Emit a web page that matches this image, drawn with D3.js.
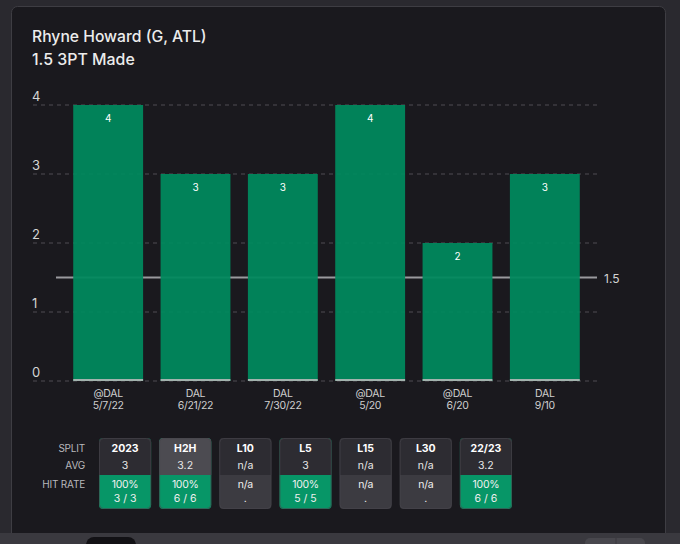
<!DOCTYPE html>
<html>
<head>
<meta charset="utf-8">
<script src="https://cdn.jsdelivr.net/npm/d3@7"></script>
<style>
  html, body { margin: 0; padding: 0; background: #2a292f; }
  svg { display: block; font-family: Inter, "Noto Sans", sans-serif; }
</style>
</head>
<body>
<div id="chart"></div>
<script>
const opponents = ["@DAL", "DAL", "DAL", "@DAL", "@DAL", "DAL"];
const dates = ["5/7/22", "6/21/22", "7/30/22", "5/20", "6/20", "9/10"];
const made = [4, 3, 3, 4, 2, 3];
const propLine = 1.5;
const yTicks = [0, 1, 2, 3, 4];

const splits = ["2023", "H2H", "L10", "L5", "L15", "L30", "22/23"];
const avgs = ["3", "3.2", "n/a", "3", "n/a", "n/a", "3.2"];
const hitPct = ["100%", "100%", "n/a", "100%", "n/a", "n/a", "100%"];
const hitCount = ["3 / 3", "6 / 6", ".", "5 / 5", ".", ".", "6 / 6"];
const selectedSplit = "H2H";

const width = 680;
const height = 544;

const games = made.map((v, i) => ({id: i, opp: opponents[i], date: dates[i], value: v}));

const svg = d3.select("#chart")
    .append("svg")
    .attr("width", width)
    .attr("height", height);

// page background + panel
svg.append("rect").attr("width", width).attr("height", height).attr("fill", "#2a292f");
svg.append("rect")
    .attr("x", 11.5).attr("y", 6.5)
    .attr("width", 654).attr("height", 540)
    .attr("rx", 6)
    .attr("fill", "#1a191e")
    .attr("stroke", "#3e3d43");

// bottom toolbar strip
svg.append("rect").attr("x", 0).attr("y", 533).attr("width", width).attr("height", 11).attr("fill", "#3a393f");
svg.append("rect").attr("x", 86).attr("y", 537).attr("width", 50).attr("height", 20).attr("rx", 8).attr("fill", "#121115");
svg.append("rect").attr("x", 585).attr("y", 538).attr("width", 60).attr("height", 20).attr("rx", 5).attr("fill", "#48474d");
svg.append("line").attr("x1", 616).attr("x2", 616).attr("y1", 538).attr("y2", 544).attr("stroke", "#3a393f");

// titles
svg.append("text")
    .attr("x", 32).attr("y", 42)
    .attr("fill", "#ececec")
    .attr("font-size", 15.7).attr("font-weight", 500)
    .text("Rhyne Howard (G, ATL)");
svg.append("text")
    .attr("x", 32).attr("y", 65)
    .attr("fill", "#ececec")
    .attr("font-size", 15.9).attr("font-weight", 500)
    .text(`${propLine} 3PT Made`);

// scales
const xScale = d3.scaleBand()
    .domain(games.map(d => d.id))
    .range([64.5, 588.5])
    .paddingInner(0.2)
    .paddingOuter(0.1);

const yScale = d3.scaleLinear()
    .domain([0, 4])
    .range([381, 105]);

const plot = svg.append("g");

// grid
plot.selectAll(".grid")
    .data(yTicks)
    .enter()
    .append("line")
    .attr("x1", 33).attr("x2", 598)
    .attr("y1", d => yScale(d)).attr("y2", d => yScale(d))
    .attr("stroke", "#4e4d53")
    .attr("stroke-dasharray", "4,4");

plot.selectAll(".ytick")
    .data(yTicks)
    .enter()
    .append("text")
    .attr("x", 32)
    .attr("y", d => yScale(d) - 4)
    .attr("fill", "#d4d4d4")
    .attr("font-size", 13)
    .text(d => d);

// prop line (behind bars)
plot.append("line")
    .attr("x1", 56).attr("x2", 597)
    .attr("y1", yScale(propLine)).attr("y2", yScale(propLine))
    .attr("stroke", "#9a9a9e")
    .attr("stroke-width", 2);
plot.append("text")
    .attr("x", 604).attr("y", yScale(propLine) + 5)
    .attr("fill", "#d4d4d4")
    .attr("font-size", 12)
    .text(propLine);

// bars
plot.selectAll(".bar")
    .data(games)
    .enter()
    .append("rect")
    .attr("x", d => xScale(d.id))
    .attr("y", d => yScale(d.value))
    .attr("width", xScale.bandwidth())
    .attr("height", d => yScale(0) - yScale(d.value))
    .attr("fill", "#00895e")
    .attr("fill-opacity", 0.94);

plot.selectAll(".base")
    .data(games)
    .enter()
    .append("rect")
    .attr("x", d => xScale(d.id))
    .attr("y", yScale(0) - 2)
    .attr("width", xScale.bandwidth())
    .attr("height", 2)
    .attr("fill", "#a3b3ae");

plot.selectAll(".val")
    .data(games)
    .enter()
    .append("text")
    .attr("x", d => xScale(d.id) + xScale.bandwidth() / 2)
    .attr("y", d => yScale(d.value) + 17)
    .attr("text-anchor", "middle")
    .attr("fill", "#ffffff")
    .attr("font-size", 10)
    .text(d => d.value);

const xl = plot.selectAll(".xl")
    .data(games)
    .enter()
    .append("text")
    .attr("text-anchor", "middle")
    .attr("fill", "#cfcfcf")
    .attr("font-size", 10.5)
    .attr("letter-spacing", -0.3);
xl.append("tspan")
    .attr("x", d => xScale(d.id) + xScale.bandwidth() / 2)
    .attr("y", 397)
    .text(d => d.opp);
xl.append("tspan")
    .attr("x", d => xScale(d.id) + xScale.bandwidth() / 2)
    .attr("y", 409)
    .text(d => d.date);

// split table
const rowLabels = [["SPLIT", 452], ["AVG", 469], ["HIT RATE", 488]];
svg.selectAll(".rowlabel")
    .data(rowLabels)
    .enter()
    .append("text")
    .attr("x", 85)
    .attr("y", d => d[1])
    .attr("text-anchor", "end")
    .attr("fill", "#b8b8bc")
    .attr("font-size", 10)
    .attr("letter-spacing", -0.2)
    .text(d => d[0]);

const cardScale = d3.scaleBand()
    .domain(splits)
    .range([99, 512])
    .paddingInner(0.133);

const cards = splits.map((s, i) => ({
    split: s, avg: avgs[i], pct: hitPct[i], count: hitCount[i], hit: hitPct[i] !== "n/a"
}));

const card = svg.selectAll(".card")
    .data(cards)
    .enter()
    .append("g")
    .attr("transform", d => `translate(${cardScale(d.split)}, 438)`);

const cw = cardScale.bandwidth();

card.append("rect")
    .attr("width", cw).attr("height", 71).attr("rx", 4)
    .attr("fill", d => d.hit ? "#079667" : "#3c3b41");
card.append("path")
    .attr("d", `M0,37 V4 A4,4 0 0 1 4,0 H${cw - 4} A4,4 0 0 1 ${cw},4 V37 Z`)
    .attr("fill", d => d.split === selectedSplit ? "#4c4b51" : "#2d2c32");
card.append("rect")
    .attr("x", 0.5).attr("y", 0.5)
    .attr("width", cw - 1).attr("height", 70).attr("rx", 4)
    .attr("fill", "none")
    .attr("stroke", "#47464c")
    .attr("stroke-opacity", 0.6);

card.append("text")
    .attr("x", cw / 2).attr("y", 14)
    .attr("text-anchor", "middle")
    .attr("fill", "#ffffff")
    .attr("font-size", 10.5).attr("font-weight", 700)
    .text(d => d.split);
card.append("text")
    .attr("x", cw / 2).attr("y", 31)
    .attr("text-anchor", "middle")
    .attr("fill", "#e8e8e8")
    .attr("font-size", 10.5)
    .text(d => d.avg);
card.append("text")
    .attr("x", cw / 2).attr("y", 50)
    .attr("text-anchor", "middle")
    .attr("fill", "#f0f0f0")
    .attr("font-size", 10.5)
    .attr("letter-spacing", -0.3)
    .text(d => d.pct);
card.append("text")
    .attr("x", cw / 2).attr("y", 64)
    .attr("text-anchor", "middle")
    .attr("fill", "#f0f0f0")
    .attr("font-size", 10.5)
    .text(d => d.count);
</script>
</body>
</html>
